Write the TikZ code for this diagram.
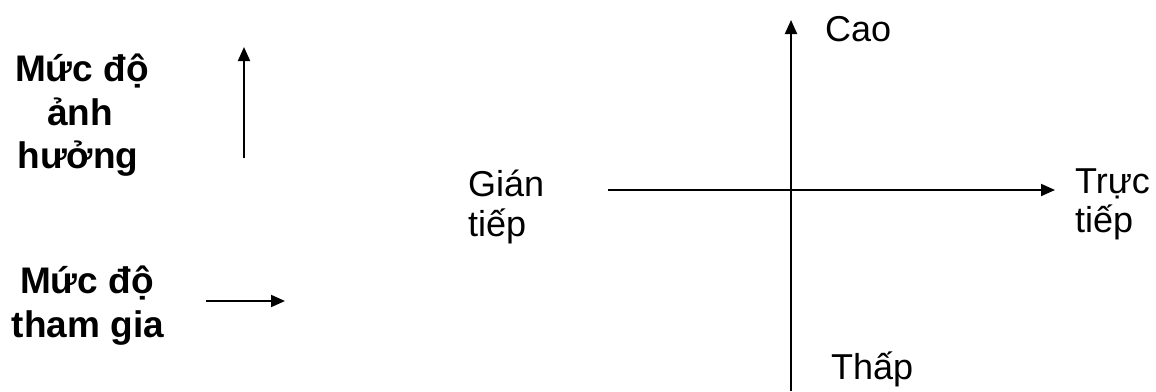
\documentclass[tikz,border=0pt]{standalone}
\usepackage{fontspec}
\setmainfont{Liberation Sans}
\usetikzlibrary{arrows.meta}
\begin{document}
\begin{tikzpicture}[x=1pt,y=-1pt,
  lbl/.style={inner sep=0pt,anchor=base west,font=\fontsize{36}{40}\selectfont},
  blbl/.style={inner sep=0pt,anchor=base,font=\fontsize{37}{44}\selectfont\bfseries},
  arr/.style={line width=2pt,-{Triangle[length=14pt,width=12pt]}}]
\useasboundingbox (0,0) rectangle (1156,391);
% left legend
\node[blbl] (m1) at (82,81) {Mức độ};
\node[blbl] (m2) at (80,125) {ảnh};
\node[blbl] (m3) at (78,168) {hưởng};
\node[blbl] (t1) at (87,293) {Mức độ};
\node[blbl] (t2) at (88,337) {tham gia};
\coordinate (ua) at (244,158);
\coordinate (ub) at (244,47);
\draw[arr] (ua) -- (ub);
\coordinate (ra) at (206,301);
\coordinate (rb) at (285,301);
\draw[arr] (ra) -- (rb);
% axes
\coordinate (vb) at (791,391);
\coordinate (vt) at (791,20);
\draw[arr] (vb) -- (vt);
\coordinate (hl) at (608,190);
\coordinate (hr) at (1055,190);
\draw[arr] (hl) -- (hr);
% labels
\node[lbl] (cao) at (825,41) {Cao};
\node[lbl] (g1) at (468,196) {Gián};
\node[lbl] (g2) at (468,236) {tiếp};
\node[lbl] (tr1) at (1075,193) {Trực};
\node[lbl] (tr2) at (1075,232) {tiếp};
\node[lbl] (th) at (831,379) {Thấp};
\end{tikzpicture}
\end{document}
